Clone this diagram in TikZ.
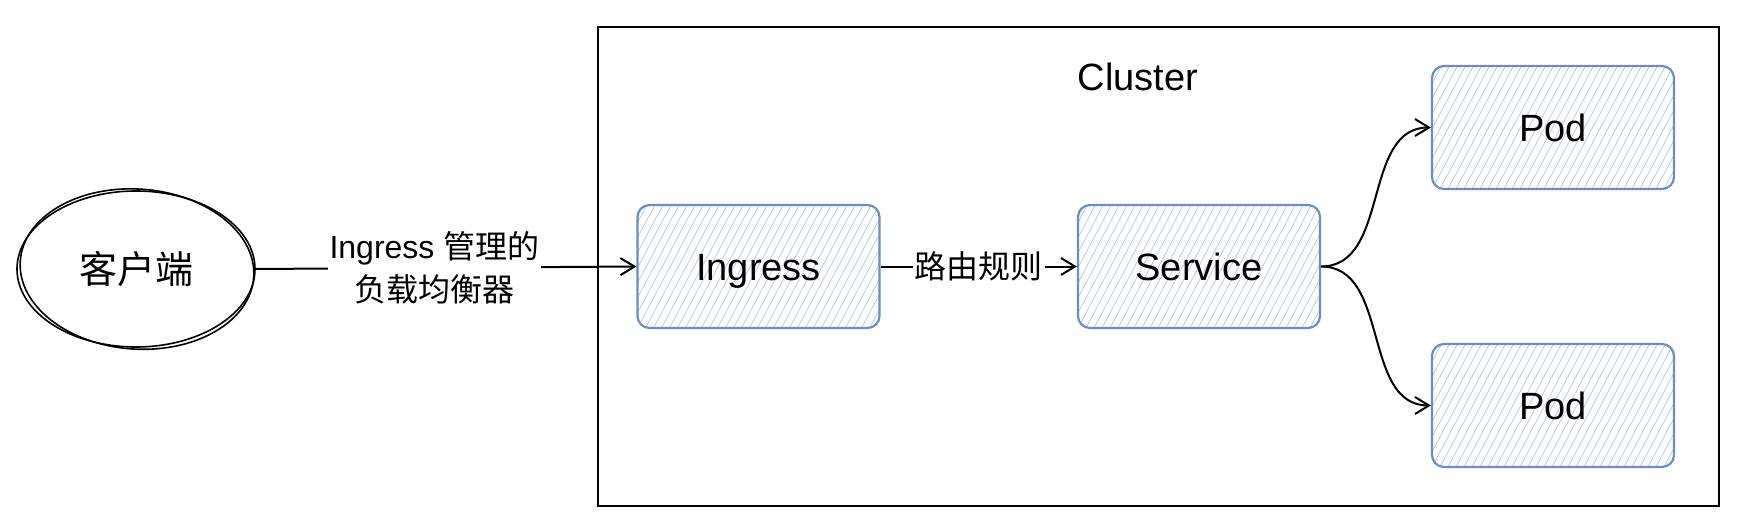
\documentclass[tikz,border=0pt]{standalone}
\usepackage{fontspec}
\setmainfont{Liberation Sans}
\newfontfamily\cjk{Noto Sans CJK SC}
\usetikzlibrary{arrows.meta,shapes.geometric}

\definecolor{boxblue}{RGB}{108,142,191}
\definecolor{hatchblue}{RGB}{186,206,240}
\newcommand{\boxfont}{\fontsize{19}{23}\selectfont}
\newcommand{\lblfont}{\fontsize{16}{21.5}\selectfont}

\tikzset{
  box/.style={draw=boxblue, line width=1.1pt, rounded corners=6pt,
    minimum width=121pt, minimum height=61.5pt, font=\boxfont,
    text height=13.6pt, text depth=0pt,
    path picture={
      \foreach \k in {-12,...,34}
        \draw[hatchblue, line width=0.45pt]
          ([xshift=\k*4pt]path picture bounding box.south west) -- ++(62:90pt);
    }},
  sketch/.style={draw, line width=0.8pt},
  conn/.style={draw, line width=1pt, -{Straight Barb[length=7pt,width=8.5pt]}},
  lbl/.style={fill=white, inner sep=1pt, font=\lblfont, align=center},
}

\begin{document}
\begin{tikzpicture}[x=0.5pt, y=-0.5pt]
    \useasboundingbox (0,0) rectangle (1742,524);

    \node[draw, line width=1.2pt, minimum width=560.5pt, minimum height=239.5pt]
      (cluster) at (1158.5,266.5) {};
    \node[font=\boxfont] (title) at (1138,77) {Cluster};

    \node[ellipse, minimum width=119pt, minimum height=79pt, font=\boxfont]
      (client) at (136,269) {\cjk 客户端};
    \draw[sketch] (client.center) ellipse [x radius=59.5pt, y radius=39pt];
    \draw[sketch, rotate around={-4:(client.center)}] ([xshift=0.5pt]client.center)
      ellipse [x radius=58.5pt, y radius=40pt];

    \node[box] (ingress) at (758.5,266.5) {Ingress};
    \node[box] (service) at (1199,266.5) {Service};
    \node[box] (podA) at (1553,127.5) {Pod};
    \node[box] (podB) at (1553,405.5) {Pod};

    \draw[conn] (client.east) -- node[lbl, pos=0.47] (lblA)
      {Ingress {\cjk 管理的}\\{\cjk 负载均衡器}} (ingress.west);
    \draw[conn] (ingress) -- node[lbl] (lblB) {\cjk 路由规则} (service);
    \draw[conn] (service.east) to[out=0, in=180] (podA.west);
    \draw[conn] (service.east) to[out=0, in=180] (podB.west);
\end{tikzpicture}
\end{document}
